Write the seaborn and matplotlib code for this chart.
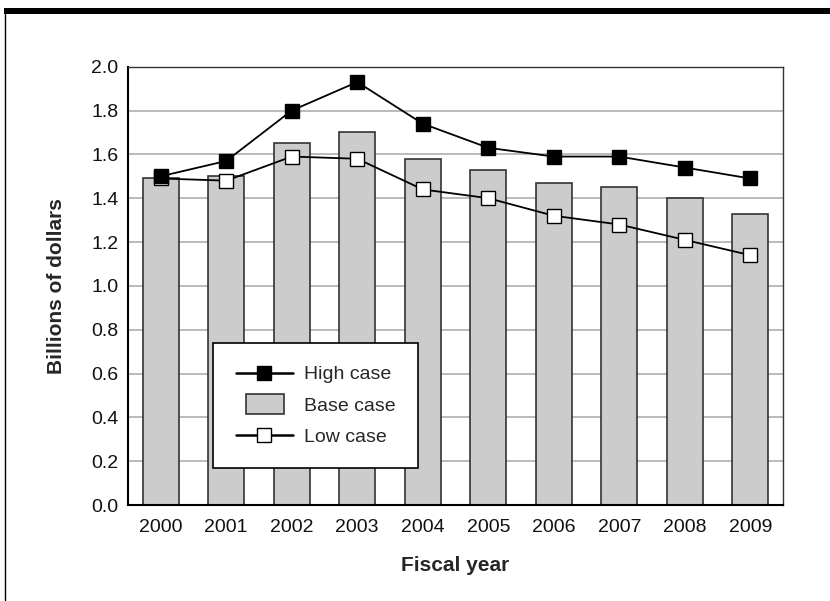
import matplotlib
matplotlib.use("Agg")
import matplotlib.pyplot as plt
import seaborn as sns
import pandas as pd
from matplotlib.lines import Line2D
from matplotlib.patches import Patch, Rectangle
from matplotlib.legend_handler import HandlerPatch

years = ["2000", "2001", "2002", "2003", "2004", "2005", "2006", "2007", "2008", "2009"]
base_case = [1.49, 1.50, 1.65, 1.70, 1.58, 1.53, 1.47, 1.45, 1.40, 1.33]
high_case = [1.50, 1.57, 1.80, 1.93, 1.74, 1.63, 1.59, 1.59, 1.54, 1.49]
low_case = [1.49, 1.48, 1.59, 1.58, 1.44, 1.40, 1.32, 1.28, 1.21, 1.14]
y_ticks = [0.0, 0.2, 0.4, 0.6, 0.8, 1.0, 1.2, 1.4, 1.6, 1.8, 2.0]

sns.set_style("white")
plt.rcParams["font.family"] = ["Liberation Sans", "DejaVu Sans"]

df = pd.DataFrame({"year": years, "base": base_case, "high": high_case, "low": low_case})

fig = plt.figure(figsize=(8.3, 6.01), dpi=100)
ax = fig.add_axes([0.1542, 0.1597, 0.7892, 0.7293])

sns.barplot(data=df, x="year", y="base", ax=ax, color="#cccccc", width=0.55,
            edgecolor="#333333", linewidth=1.2, saturation=1, zorder=2)
sns.pointplot(data=df, x="year", y="low", ax=ax, color="black", markers="s",
              linestyles="-", linewidth=1.3, markersize=9.5,
              markerfacecolor="white", markeredgecolor="black", markeredgewidth=1.0, zorder=4)
sns.pointplot(data=df, x="year", y="high", ax=ax, color="black", markers="s",
              linestyles="-", linewidth=1.3, markersize=9.5,
              markerfacecolor="black", markeredgecolor="black", markeredgewidth=1.0, zorder=5)

ax.set_xlim(-0.5, len(years) - 0.5)
ax.set_ylim(0, 2.0)
ax.set_yticks(y_ticks)
ax.set_yticklabels([f"{v:.1f}" for v in y_ticks])
ax.yaxis.grid(True, color="#b4b4b4", linewidth=1.3, zorder=0)
ax.set_axisbelow(True)
ax.tick_params(axis="both", length=0, labelsize=14, colors="#111111")
ax.tick_params(axis="x", pad=10)
ax.tick_params(axis="y", pad=7)

for side in ["left", "bottom"]:
    ax.spines[side].set_color("black")
    ax.spines[side].set_linewidth(1.5)
for side in ["top", "right"]:
    ax.spines[side].set_visible(True)
    ax.spines[side].set_color("#333333")
    ax.spines[side].set_linewidth(1.0)

ax.set_xlabel("Fiscal year", fontsize=15, fontweight="bold")
ax.set_ylabel("Billions of dollars", fontsize=15, fontweight="bold")
ax.xaxis.set_label_coords(0.5, -0.117)
ax.yaxis.set_label_coords(-0.094, 0.5)


def base_patch(legend, orig_handle, xdescent, ydescent, width, height, fontsize):
    return Rectangle((-xdescent + width * 0.19, -ydescent - height * 0.25), width * 0.66, height * 1.5)


handles = [
    Line2D([], [], color="black", linewidth=1.8, marker="s", markersize=9.5,
           markerfacecolor="black", markeredgecolor="black"),
    Patch(facecolor="#cccccc", edgecolor="#333333", linewidth=1.2),
    Line2D([], [], color="black", linewidth=1.8, marker="s", markersize=9.5,
           markerfacecolor="white", markeredgecolor="black"),
]
leg = ax.legend(handles, ["High case", "Base case", "Low case"], loc="lower left",
                bbox_to_anchor=(0.13, 0.084), fontsize=14, frameon=True, fancybox=False,
                framealpha=1, edgecolor="black", handlelength=2.95, handletextpad=0.55,
                labelspacing=0.7, borderpad=1.15, borderaxespad=0,
                handler_map={Patch: HandlerPatch(patch_func=base_patch)})
leg.get_frame().set_linewidth(1.2)
leg.set_zorder(6)

W, H = 830, 601
fig.add_artist(Rectangle((4 / W, 1 - 14 / H), 1, 6 / H, transform=fig.transFigure,
                         facecolor="black", edgecolor="none"))
fig.add_artist(Line2D([4.5 / W, 4.5 / W], [0, 1 - 14 / H], transform=fig.transFigure,
                      color="black", linewidth=1.0))

fig.savefig("out.png", dpi=100)
